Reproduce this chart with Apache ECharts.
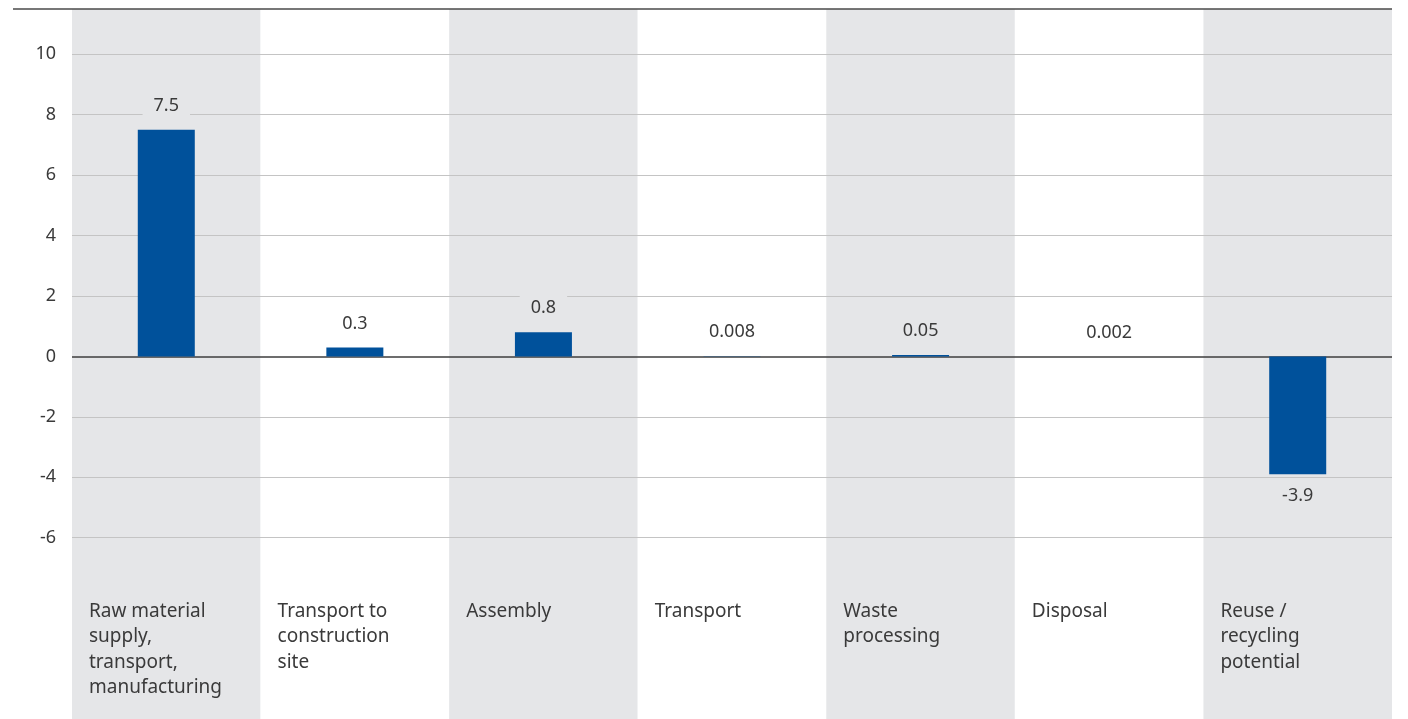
<!DOCTYPE html>
<html>
<head>
<meta charset="utf-8">
<script src="https://cdn.jsdelivr.net/npm/echarts@6/dist/echarts.min.js"></script>
<style>
html,body{margin:0;padding:0;background:#fff;}
#c{width:1408px;height:719px;}
</style>
</head>
<body>
<div id="c"></div>
<script>
const categories = [
  "Raw material\nsupply,\ntransport,\nmanufacturing",
  "Transport to\nconstruction\nsite",
  "Assembly",
  "Transport",
  "Waste\nprocessing",
  "Disposal",
  "Reuse /\nrecycling\npotential"
];
const values = [7.5, 0.3, 0.8, 0.008, 0.05, 0.002, -3.9];
const yTicks = [-6, -4, -2, 0, 2, 4, 6, 8, 10];
const yMin = -12;
const yMax = 11.5;

const GREY = '#e5e6e8';
const BLUE = '#00519b';
const TEXT = '#3a3a3a';
const FONT = 'Noto Sans';
const bandColor = i => (i % 2 === 0 ? GREY : '#ffffff');

const chart = echarts.init(document.getElementById('c'), null, {renderer: 'canvas'});

const mainData = values.map((v, i) => ({
  value: v,
  label: {
    position: v < 0 ? 'bottom' : 'top',
    distance: v < 0 ? 7 : 10,
    backgroundColor: bandColor(i)
  }
}));

const gridLines = yTicks.map(t => ({
  yAxis: t,
  lineStyle: t === 0 ? {color: '#3c3c3c', width: 1.5, type: 'solid'} : {color: '#c4c4c4', width: 1, type: 'solid'}
}));

chart.setOption({
  animation: false,
  backgroundColor: '#ffffff',
  grid: {left: 72, right: 16, top: 9, bottom: 0, containLabel: false},
  xAxis: [
    {type: 'category', data: categories, axisLine: {show: false}, axisTick: {show: false}, axisLabel: {show: false}, splitLine: {show: false}},
    {type: 'category', data: categories, position: 'top', axisLine: {show: false}, axisTick: {show: false}, axisLabel: {show: false}, splitLine: {show: false}}
  ],
  yAxis: {
    type: 'value', min: yMin, max: yMax, interval: 2,
    axisLine: {show: false}, axisTick: {show: false}, splitLine: {show: false},
    axisLabel: {
      margin: 16, fontFamily: FONT, fontSize: 18, color: TEXT,
      formatter: v => (yTicks.indexOf(v) >= 0 ? String(v) : '')
    }
  },
  graphic: [{
    type: 'line', z: 100,
    shape: {x1: 13, y1: 9, x2: 1392, y2: 9},
    style: {stroke: '#4a4a4a', lineWidth: 1.5}
  }],
  series: [
    {
      type: 'bar', xAxisIndex: 0, stack: 'bg', barWidth: '100%', z: 0, silent: true,
      data: categories.map(() => yMax),
      itemStyle: {color: p => bandColor(p.dataIndex)},
      markLine: {silent: true, symbol: 'none', label: {show: false}, z: 3, data: gridLines}
    },
    {
      type: 'bar', xAxisIndex: 0, stack: 'bg', barWidth: '100%', z: 0, silent: true,
      data: categories.map(() => yMin),
      itemStyle: {color: p => bandColor(p.dataIndex)},
      label: {
        show: true,
        position: [17, 242],
        align: 'left', verticalAlign: 'top',
        fontFamily: FONT, fontSize: 19, lineHeight: 25.5, color: TEXT,
        formatter: p => categories[p.dataIndex]
      }
    },
    {
      type: 'bar', xAxisIndex: 1, barWidth: 57, z: 10,
      data: mainData,
      itemStyle: {color: BLUE},
      label: {
        show: true, padding: [6, 11, 5, 11],
        fontFamily: FONT, fontSize: 18, color: TEXT,
        formatter: p => String(values[p.dataIndex])
      }
    }
  ]
});
</script>
</body>
</html>
